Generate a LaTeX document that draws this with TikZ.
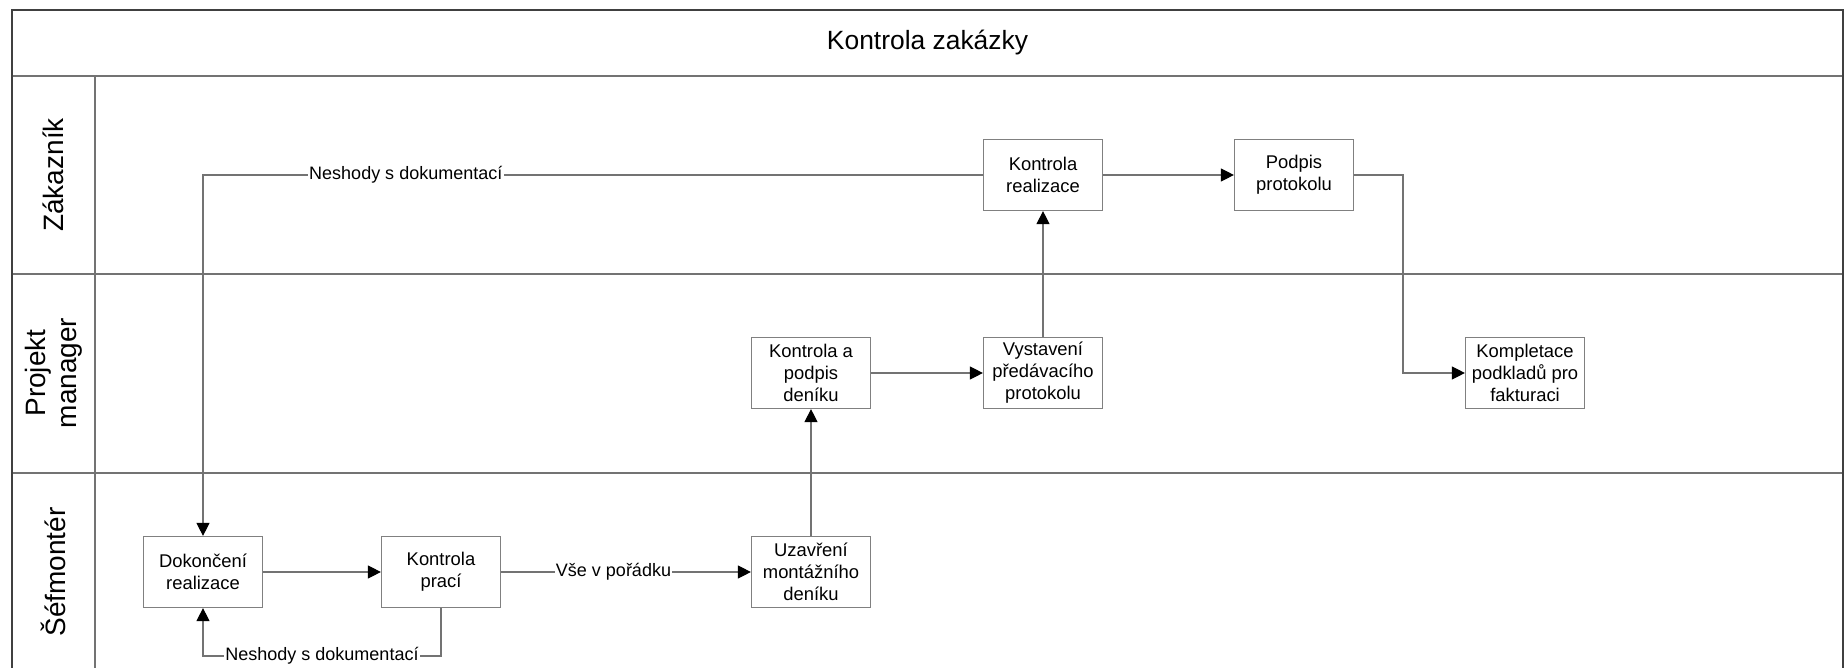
\documentclass[tikz,border=0pt]{standalone}
\usepackage{fontspec}
\setmainfont{Liberation Sans}
\usetikzlibrary{arrows.meta}
\begin{document}
\begin{tikzpicture}[x=0.5pt,y=-0.5pt,
  box/.style={draw=black!50, line width=0.6pt, minimum width=59.5pt, minimum height=35.5pt,
              align=center, inner sep=1pt, font=\fontsize{9.2}{11}\selectfont},
  link/.style={draw=black!55, line width=0.55pt},
  flow/.style={link, -{Triangle[length=6.5pt,width=6.5pt,color=black]}},
  lbl/.style={fill=white, inner sep=0.6pt, font=\fontsize{9}{11}\selectfont},
  laneline/.style={draw=black!55, line width=0.6pt},
  frame/.style={draw=black!75, line width=1.1pt},
  lanelabel/.style={rotate=90, align=center, font=\fontsize{14}{15.5}\selectfont}
]
\useasboundingbox (0,0) rectangle (1845,668);
\begin{scope}
\clip (0,0) rectangle (1845,668);

% pool and swimlanes
\draw[laneline] (12,76) -- (1843,76);
\draw[laneline] (12,274) -- (1843,274);
\draw[laneline] (12,473) -- (1843,473);
\draw[laneline] (95,76) -- (95,672);
\draw[frame] (12,10) rectangle (1843,672);

\node[font=\fontsize{13.2}{15}\selectfont] (title) at (927.5,43) {Kontrola zakázky};
\node[lanelabel] (laneA) at (53.5,175) {Zákazník};
\node[lanelabel] (laneB) at (53.5,373) {Projekt\\manager};
\node[lanelabel] (laneC) at (53.5,572) {Šéfmontér};

% activities
\node[box] (dok)   at (203,572)  {Dokončení\\realizace};
\node[box] (kp)    at (441,572)  {Kontrola\\prací};
\node[box] (uz)    at (811,572)  {Uzavření\\montážního\\deníku};
\node[box] (kap)   at (811,373)  {Kontrola a\\podpis\\deníku};
\node[box] (vys)   at (1043,373) {Vystavení\\předávacího\\protokolu};
\node[box] (kr)    at (1043,175) {Kontrola\\realizace};
\node[box] (podp)  at (1294,175) {Podpis\\protokolu};
\node[box] (kompl) at (1525,373) {Kompletace\\podkladů pro\\fakturaci};

% helper points for routed connectors
\coordinate (loopR) at (441,656);
\coordinate (loopL) at (203,656);
\coordinate (bend)  at (1403,175);

% flows
\draw[flow] (kr.west) -| node[lbl, pos=0.37] {Neshody s dokumentací} (dok.north);
\draw[flow] (dok.east) -- (kp.west);
\draw[flow] (kp.east) -- node[lbl, pos=0.45] {Vše v pořádku} (uz.west);
\draw[flow] (kp.south) -- (loopR) -- node[lbl] {Neshody s dokumentací} (loopL) -- (dok.south);
\draw[flow] (uz.north) -- (kap.south);
\draw[flow] (kap.east) -- (vys.west);
\draw[flow] (vys.north) -- (kr.south);
\draw[flow] (kr.east) -- (podp.west);
\draw[flow] (podp.east) -- (bend) |- (kompl.west);
\end{scope}
\end{tikzpicture}
\end{document}
